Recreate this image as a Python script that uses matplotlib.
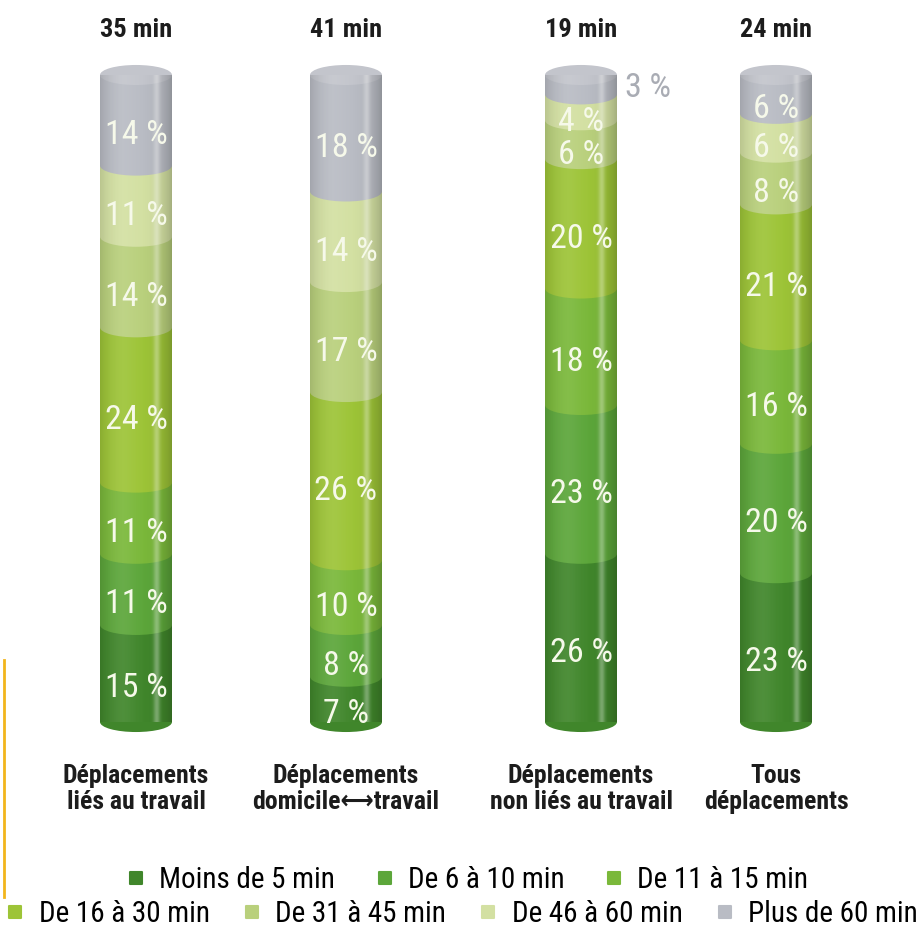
"""Durée des déplacements : cylindres empilés par type de déplacement."""

import os

import numpy as np
import matplotlib.pyplot as plt
from matplotlib import font_manager
from matplotlib.lines import Line2D
from matplotlib.markers import MarkerStyle
from matplotlib.patches import Ellipse, Polygon, Rectangle

CATEGORIES = [
    "Déplacements\nliés au travail",
    "Déplacements\ndomicile\u27f7travail",
    "Déplacements\nnon liés au travail",
    "Tous\ndéplacements",
]
DURATIONS = ["35 min", "41 min", "19 min", "24 min"]
BANDS = [
    "Moins de 5 min", "De 6 à 10 min", "De 11 à 15 min", "De 16 à 30 min",
    "De 31 à 45 min", "De 46 à 60 min", "Plus de 60 min",
]
# shares per band, from shortest to longest trip
LIES_TRAVAIL = [15, 11, 11, 24, 14, 11, 14]
DOMICILE_TRAVAIL = [7, 8, 10, 26, 17, 14, 18]
NON_LIES = [26, 23, 18, 20, 6, 4, 3]
TOUS = [23, 20, 16, 21, 8, 6, 6]
SERIES = [LIES_TRAVAIL, DOMICILE_TRAVAIL, NON_LIES, TOUS]

COLORS = ["#40862b", "#5ca63a", "#7ab83a", "#9dc437", "#b9d07c", "#d3e0a2", "#b9bcc4"]
CAP = "#c3c5cc"
LABEL_INK = "#f6f9ea"
INK = "#1c1c1c"

# layout (pixels on the x axis)
BAR_X = [136, 346, 581, 776]
BAR_W = 72
ELL_H = 3.1  # ellipse depth in % units
LABEL_DROP = 2.3  # labels sit a little below the segment middle


def pick_narrow():
    """Find an installed condensed / narrow face, if any."""
    prefs = ["Liberation Sans Narrow", "Roboto Condensed", "Open Sans Condensed",
             "Noto Sans", "Noto Sans Condensed", "Open Sans", "DejaVu Sans", "Roboto"]
    found = []
    for f in font_manager.fontManager.ttflist:
        base = os.path.basename(f.fname).lower()
        narrow = ("narrow" in f.name.lower() or "condensed" in f.name.lower()
                  or "condensed" in str(f.stretch) or "condensed" in base)
        if not narrow or f.style != "normal" or "extra" in base or "ultra" in base:
            continue
        rank = 1 if ("semi" in base or "semi" in str(f.stretch)) else 0
        pr = prefs.index(f.name) if f.name in prefs else len(prefs)
        found.append((pr, rank, f))
    if not found:
        return None
    found.sort(key=lambda t: (t[0], t[1]))
    return found[0][2]


face = pick_narrow()
if face is not None:
    FAM = [face.name, "DejaVu Sans"]
    STRETCH = face.stretch
    SCALE = 1.0
else:
    FAM = ["DejaVu Sans"]
    STRETCH = "normal"
    SCALE = 0.78
TXT = dict(family=FAM, stretch=STRETCH)

fig = plt.figure(figsize=(9.23, 9.31), dpi=100)
# y=0 at pixel 722, y=100 at pixel 75
ax = fig.add_axes([0, 1 - 722 / 931, 1, (722 - 75) / 931])
ax.set_xlim(0, 923)
ax.set_ylim(0, 100)
ax.axis("off")


def outline(x0, x1):
    t = np.linspace(0, np.pi, 40)
    xc, a = (x0 + x1) / 2, (x1 - x0) / 2
    top = np.column_stack([xc + a * np.cos(t), 100 + ELL_H / 2 * np.sin(t)])
    bot = np.column_stack([xc - a * np.cos(t), -ELL_H / 2 * np.sin(t)])
    return np.vstack([top, bot])


u = np.linspace(0, 1, 300)
dark = np.zeros((1, 300, 4))
dark[..., 3] = 0.22 * (np.abs(u - 0.45) / 0.55) ** 3
light = np.ones((1, 300, 4))
light[..., 3] = 0.32 * np.exp(-((u - 0.79) / 0.045) ** 2) + 0.08 * np.exp(-((u - 0.3) / 0.2) ** 2)

for xc, values in zip(BAR_X, SERIES):
    x0 = xc - BAR_W / 2
    bottoms = np.concatenate([[0], np.cumsum(values)[:-1]])
    for b, v, c in zip(bottoms, values, COLORS):
        ax.add_patch(Rectangle((x0, b), BAR_W, v, facecolor=c, edgecolor="none", clip_on=False))
        ax.add_patch(Ellipse((xc, b), BAR_W, ELL_H, facecolor=c, edgecolor="none", clip_on=False))
    ax.add_patch(Ellipse((xc, 100), BAR_W, ELL_H, facecolor=CAP, edgecolor="none", clip_on=False))

    clip = Polygon(outline(x0, x0 + BAR_W), closed=True, transform=ax.transData)
    for img in (dark, light):
        im = ax.imshow(img, extent=[x0, x0 + BAR_W, -ELL_H, 100 + ELL_H],
                       aspect="auto", interpolation="bilinear", zorder=3)
        im.set_clip_path(clip)

    for b, v in zip(bottoms, values):
        if v <= 3:
            ax.text(xc + BAR_W / 2 + 8, b + v / 2 - 0.5, f"{v} %", ha="left", va="center",
                    color="#a9acb4", fontsize=24.5 * SCALE, zorder=5, clip_on=False, **TXT)
        else:
            ax.text(xc, b + v / 2 - LABEL_DROP, f"{v} %", ha="center", va="center",
                    color=LABEL_INK, fontsize=24.5 * SCALE, zorder=5, **TXT)

for xc, dur, cat in zip(BAR_X, DURATIONS, CATEGORIES):
    ax.text(xc, 107.0, dur, ha="center", va="center", fontsize=19 * SCALE, fontweight="bold",
            color=INK, clip_on=False, **TXT)
    ax.text(xc, -10.3, cat, ha="center", va="center", fontsize=18.5 * SCALE, fontweight="bold",
            color=INK, linespacing=1.12, clip_on=False, **TXT)

handles = [
    Line2D([], [], ls="", marker=MarkerStyle("s", joinstyle="round"), markersize=9,
           markerfacecolor=c, markeredgecolor=c, markeredgewidth=1.5)
    for c in COLORS
]
leg_kw = dict(frameon=False, handlelength=0.7, handletextpad=0.45,
              prop=font_manager.FontProperties(size=21 * SCALE, **TXT),
              borderaxespad=0, borderpad=0)
fig.legend(handles[:3], BANDS[:3], ncol=3, loc="center",
           bbox_to_anchor=(0.506, 1 - 880 / 931), columnspacing=1.35, **leg_kw)
fig.legend(handles[3:], BANDS[3:], ncol=4, loc="center",
           bbox_to_anchor=(0.5, 1 - 914 / 931), columnspacing=1.1, **leg_kw)

fig.add_artist(Line2D([0.004, 0.004], [1 - 660 / 931, 1 - 897 / 931],
                      color="#f2b51c", lw=2, transform=fig.transFigure))

fig.savefig("out.png", dpi=100)
